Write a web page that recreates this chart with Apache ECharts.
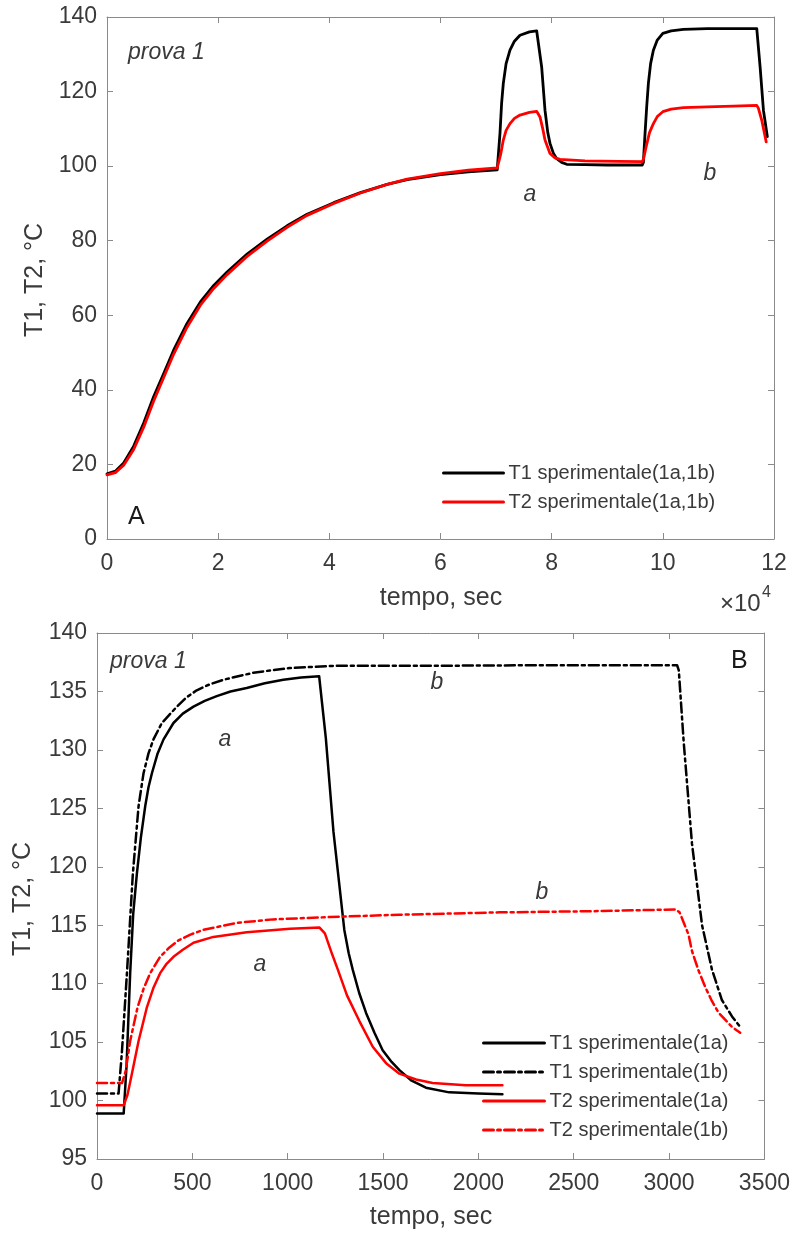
<!DOCTYPE html>
<html>
<head>
<meta charset="utf-8">
<script src="https://cdn.jsdelivr.net/npm/echarts@6/dist/echarts.min.js"></script>
<style>
html,body{margin:0;padding:0;background:#fff;}
#c{width:793px;height:1234px;}
</style>
</head>
<body>
<div id="c"></div>
<script>
// ---------- DATA ----------
// Panel A: x in units of 10^4 s
const topXTicks = [0, 2, 4, 6, 8, 10, 12];
const topT1 = [
  [0,17.5],[0.15,18.2],[0.3,20.4],[0.48,24.9],[0.66,31.1],[0.84,38.2],[1.02,44.4],[1.2,50.7],[1.44,57.8],
  [1.68,63.6],[1.92,68],[2.16,71.6],[2.52,76.4],[2.88,80.4],[3.24,84],[3.6,87.1],[4.08,90.2],[4.56,92.9],
  [5.04,95.1],[5.4,96.4],[6.0,97.7],[6.5,98.5],[7.02,99.0],
  [7.04,99.2],[7.07,108.8],[7.1,117],[7.13,122.2],[7.18,127.5],[7.25,131.1],[7.33,133.5],[7.43,135.1],[7.6,136],[7.73,136.3],[7.76,136.1],
  [7.82,126.6],[7.88,115],[7.93,109],[7.97,106.1],[8.03,103.5],[8.09,102],[8.18,101],[8.27,100.5],[8.6,100.4],[9.0,100.3],[9.63,100.3],
  [9.65,101],[9.68,108.8],[9.71,116],[9.74,122.2],[9.78,127.5],[9.83,131.1],[9.9,133.8],[10.0,135.6],[10.15,136.3],[10.37,136.7],[10.8,136.9],[11.27,136.9],
  [11.69,136.9],[11.75,126.6],[11.81,115],[11.88,107.9]
];
const topT2 = [
  [0,17.2],[0.15,17.8],[0.3,19.8],[0.48,24],[0.66,30],[0.84,37],[1.02,43.3],[1.2,49.6],[1.44,56.8],
  [1.68,62.7],[1.92,67.2],[2.16,70.9],[2.52,75.8],[2.88,79.9],[3.24,83.6],[3.6,86.8],[4.08,90],[4.56,92.8],
  [5.04,95.1],[5.4,96.5],[6.0,98],[6.5,98.9],[7.02,99.5],
  [7.04,99.8],[7.08,103],[7.13,107],[7.18,109.6],[7.25,111.4],[7.33,112.8],[7.43,113.7],[7.6,114.4],[7.73,114.7],[7.76,114.5],
  [7.79,113.2],[7.84,110],[7.88,107],[7.97,103.4],[8.05,102.3],[8.15,101.8],[8.6,101.4],[9.2,101.3],[9.63,101.2],
  [9.65,101.8],[9.70,105.2],[9.76,109],[9.83,111.4],[9.9,113.3],[10.0,114.6],[10.15,115.3],[10.37,115.7],[10.8,115.9],[11.27,116.1],
  [11.69,116.3],[11.72,115.5],[11.78,112.3],[11.86,106.5]
];
// Panel B: x in s
const t1a = [
  [0,98.9],[140,98.9],[155,103],[174,110.9],[190,116],[209,119.4],[230,122.5],[253,125.2],[270,126.8],[288,128],
  [318,129.7],[349,130.9],[401,132.3],[450,133.1],[506,133.7],[565,134.2],[628,134.6],[700,135],[785,135.3],[880,135.7],[977,136],[1070,136.2],[1165,136.3],
  [1174,136.2],[1200,131],[1240,123],[1297,114.6],[1320,112.6],[1341,111.2],[1375,109.2],[1411,107.5],[1455,105.8],[1498,104.3],[1545,103.3],
  [1586,102.6],[1650,101.7],[1725,101.1],[1847,100.7],[2000,100.6],[2126,100.55]
];
const t1b = [
  [0,100.6],[113,100.6],[130,104],[157,110.9],[188,119.4],[218,125.2],[244,128],[270,129.7],[296,130.9],[340,132.3],
  [419,133.7],[470,134.5],[523,135.1],[590,135.6],[663,136],[740,136.3],[820,136.6],[910,136.8],[1012,137],[1130,137.1],[1256,137.2],[1800,137.2],[2400,137.25],[3042,137.25],
  [3051,136.8],[3077,130.6],[3120,122],[3173,115],[3225,111.2],[3277,108.6],[3330,107.2],[3373,106.3]
];
const t2a = [
  [0,99.6],[140,99.6],[160,100.5],[183,102.3],[218,105.1],[262,108],[295,109.6],[331,110.9],[365,111.7],[401,112.3],[450,112.9],[506,113.5],
  [610,114],[785,114.4],[1012,114.7],[1167,114.8],
  [1195,114.3],[1229,112.7],[1263,111.2],[1311,109],[1376,106.8],[1446,104.6],[1516,103.2],[1586,102.3],
  [1673,101.8],[1760,101.5],[1934,101.3],[2126,101.3]
];
const t2b = [
  [0,101.5],[131,101.5],[150,102.5],[174,105.1],[213,108],[245,109.6],[279,110.9],[331,112.3],[380,113.1],[427,113.7],[490,114.2],[558,114.6],
  [733,115.2],[924,115.5],[1221,115.7],[1586,115.9],[2109,116.1],[2600,116.2],[3035,116.35],
  [3055,116.1],[3075,115.3],[3102,114.2],[3120,112.8],[3155,111.1],[3190,109.7],[3225,108.5],[3260,107.5],[3330,106.3],[3373,105.8]
];
const namesA = ['T1 sperimentale(1a,1b)', 'T2 sperimentale(1a,1b)'];
const namesB = ['T1 sperimentale(1a)', 'T1 sperimentale(1b)', 'T2 sperimentale(1a)', 'T2 sperimentale(1b)'];

// ---------- STYLE ----------
const FONT = '"Liberation Sans", Arial, Helvetica, sans-serif';
const AX = '#8a8a8a';
const LBL = '#3a3a3a';
const DASHDOT = [10, 4, 3, 4];

function axis(gridIndex, pos, min, max, interval, showLabels, margin) {
  return {
    type: 'value', gridIndex, position: pos, min, max, interval,
    axisLine: { show: true, onZero: false, lineStyle: { color: AX, width: 1 } },
    axisTick: { show: true, inside: true, length: 6, lineStyle: { color: AX } },
    splitLine: { show: false },
    axisLabel: { show: showLabels, color: LBL, fontSize: 23, fontFamily: FONT, margin: margin || 11,
                 formatter: v => String(v) }
  };
}

function line(name, data, xi, yi, color, dash, w) {
  return {
    name, type: 'line', data, xAxisIndex: xi, yAxisIndex: yi,
    showSymbol: false, symbol: 'none', smooth: false,
    lineStyle: { color, width: w, type: dash ? DASHDOT : 'solid', join: 'round', cap: 'round' },
    itemStyle: { color }, animation: false, silent: true
  };
}

function txt(x, y, text, size, opts) {
  opts = opts || {};
  return {
    type: 'text', x, y, rotation: opts.rot || 0, silent: true,
    style: {
      text, fill: opts.fill || LBL,
      font: (opts.italic ? 'italic ' : '') + size + 'px ' + FONT,
      align: opts.align || 'center', verticalAlign: 'middle',
      textAlign: opts.align || 'center', textVerticalAlign: 'middle'
    }
  };
}

const legendBase = {
  orient: 'vertical', itemHeight: 14, itemGap: 9, padding: 0,
  textStyle: { fontSize: 20, color: LBL, fontFamily: FONT, lineHeight: 20 },
  itemStyle: { opacity: 0 },
  lineStyle: { width: 3 },
  selectedMode: false
};

const chart = echarts.init(document.getElementById('c'), null, { renderer: 'canvas' });
chart.setOption({
  animation: false,
  backgroundColor: '#fff',
  grid: [
    { left: 107, top: 17, width: 667, height: 522 },
    { left: 97, top: 633, width: 669, height: 526 }
  ],
  xAxis: [
    axis(0, 'bottom', topXTicks[0], topXTicks[topXTicks.length - 1], 2, true, 13),
    axis(0, 'top', 0, 12, 2, false),
    axis(1, 'bottom', 0, 3500, 500, true, 13),
    axis(1, 'top', 0, 3500, 500, false)
  ],
  yAxis: [
    axis(0, 'left', 0, 140, 20, true, 10),
    axis(0, 'right', 0, 140, 20, false),
    axis(1, 'left', 95, 140, 5, true, 10),
    axis(1, 'right', 95, 140, 5, false)
  ],
  legend: [
    Object.assign({}, legendBase, { data: namesA, left: 442, top: 463, itemWidth: 60 }),
    Object.assign({}, legendBase, { data: namesB, left: 482, top: 1033, itemWidth: 61 })
  ],
  series: [
    line(namesA[0], topT1, 0, 0, '#000000', false, 2.8),
    line(namesA[1], topT2, 0, 0, '#ff0000', false, 2.8),
    line(namesB[0], t1a, 2, 2, '#000000', false, 2.5),
    line(namesB[1], t1b, 2, 2, '#000000', true, 2.5),
    line(namesB[2], t2a, 2, 2, '#ff0000', false, 2.5),
    line(namesB[3], t2b, 2, 2, '#ff0000', true, 2.5)
  ],
  graphic: [
    // axis titles
    txt(35, 280, 'T1, T2, °C', 25, { rot: Math.PI / 2 }),
    txt(441, 598, 'tempo, sec', 25),
    txt(720, 604, '×10', 24, { align: 'left' }),
    txt(762, 593, '4', 16, { align: 'left' }),
    txt(23, 899, 'T1, T2, °C', 25, { rot: Math.PI / 2 }),
    txt(431, 1217, 'tempo, sec', 25),
    // annotations panel A
    txt(128, 53, 'prova 1', 23, { italic: true, align: 'left' }),
    txt(128, 517, 'A', 25, { align: 'left', fill: '#1a1a1a' }),
    txt(530, 195, 'a', 23, { italic: true }),
    txt(710, 174, 'b', 23, { italic: true }),
    // annotations panel B
    txt(110, 662, 'prova 1', 23, { italic: true, align: 'left' }),
    txt(731, 661, 'B', 25, { align: 'left', fill: '#1a1a1a' }),
    txt(225, 740, 'a', 23, { italic: true }),
    txt(260, 965, 'a', 23, { italic: true }),
    txt(437, 683, 'b', 23, { italic: true }),
    txt(542, 893, 'b', 23, { italic: true })
  ]
});
</script>
</body>
</html>
